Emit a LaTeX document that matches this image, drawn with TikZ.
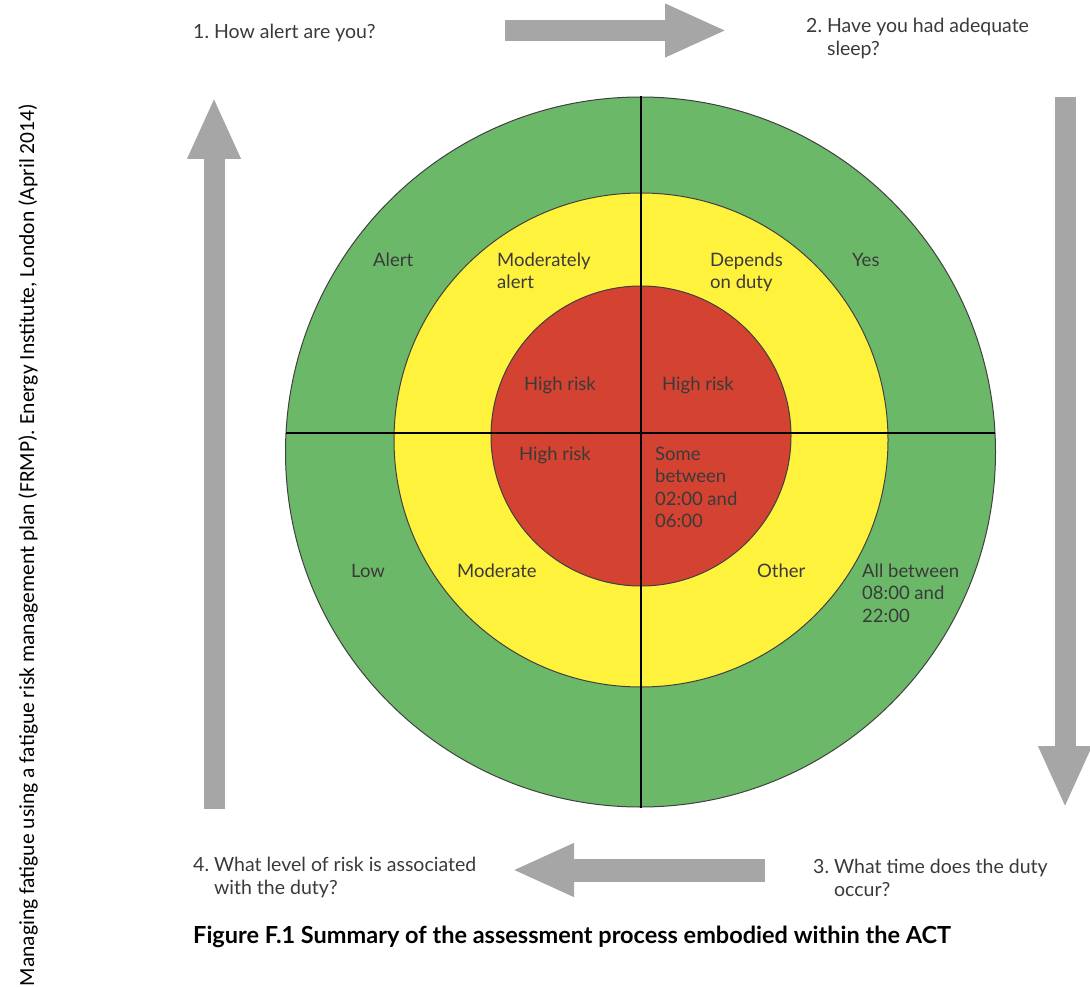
\documentclass[tikz,border=0pt]{standalone}
\usepackage{fontspec}
\setmainfont{Lato}
\newfontfamily\notefont{Carlito}
\usepackage{tikz}
\usetikzlibrary{arrows.meta, positioning}

\definecolor{zonegreen}{HTML}{6BB968}
\definecolor{zoneyellow}{HTML}{FFF23C}
\definecolor{zonered}{HTML}{D44232}
\definecolor{arrowgray}{HTML}{A6A6A6}
\definecolor{textgray}{HTML}{3A3A3A}

\tikzset{
  ring/.style={draw=black!75, line width=1pt},
  divider/.style={draw=black, line width=1.6pt},
  % base west of a multi-line node sits on its last line
  zonelabel/.style={
    anchor=base west, inner sep=0pt, align=left, text=textgray,
    font=\fontsize{18.5}{22.5}\selectfont
  },
  question/.style={
    anchor=base west, inner sep=0pt, align=left, text=textgray,
    font=\fontsize{19.5}{23}\selectfont
  },
  blockarrow/.style={
    draw=arrowgray, line width=21pt, -{Triangle[width=49pt, length=62pt]}
  }
}

\begin{document}
\begin{tikzpicture}[x=1pt, y=-1pt]
  \useasboundingbox (0,0) rectangle (1090,987);

  % three risk rings
  \draw[ring, fill=zonegreen] (640.5,452) circle[radius=355];
  \draw[ring, fill=zoneyellow] (641,440) circle[radius=247];
  \draw[ring, fill=zonered] (641,436) circle[radius=150];
  \draw[divider] (641,96) -- (641,808);
  \draw[divider] (286,433) -- (995,433);

  % zone texts
  \node[zonelabel] (alert) at (373,266) {Alert};
  \node[zonelabel] (modalert) at (497,288.5) {Moderately\\alert};
  \node[zonelabel] (depends) at (710,288.5) {Depends\\on duty};
  \node[zonelabel] (yes) at (852,266) {Yes};
  \node[zonelabel] (riskA) at (524,390) {High risk};
  \node[zonelabel] (riskB) at (662,390) {High risk};
  \node[zonelabel] (riskC) at (519,460) {High risk};
  \node[zonelabel] (night) at (655,527.5) {Some\\between\\02:00 and\\06:00};
  \node[zonelabel] (low) at (351,577) {Low};
  \node[zonelabel] (moderate) at (457,577) {Moderate};
  \node[zonelabel] (other) at (757,577) {Other};
  \node[zonelabel] (daytime) at (862,622) {All between\\08:00 and\\22:00};

  % the four questions
  \node[question] (qalert) at (193,39) {1.~How alert are you?};
  \node[question] (qsleep) at (806,56) {2.~Have you had adequate\\\hphantom{2.~}sleep?};
  \node[question] (qtime) at (813,896) {3.~What time does the duty\\\hphantom{3.~}occur?};
  \node[question] (qrisk) at (193,894) {4.~What level of risk is associated\\\hphantom{4.~}with the duty?};

  \node[anchor=base west, inner sep=0pt, font=\fontsize{23.5}{28}\selectfont\bfseries]
    (caption) at (193,943) {Figure F.1 Summary of the assessment process embodied within the ACT};

  \node[rotate=90, inner sep=0pt, font=\notefont\fontsize{21.5}{26}\selectfont]
    (source) at (28,545) {Managing fatigue using a fatigue risk management plan (FRMP). Energy Institute, London (April 2014)};

  % arrows between the questions
  \coordinate (topA) at (505,30.5);
  \coordinate (topB) at (727,30.5);
  \coordinate (rightA) at (1065,97);
  \coordinate (rightB) at (1065,808);
  \coordinate (botA) at (765,870);
  \coordinate (botB) at (512,870);
  \coordinate (leftA) at (214,809);
  \coordinate (leftB) at (214,97);
  \draw[blockarrow] (topA) -- (topB);
  \draw[blockarrow] (rightA) -- (rightB);
  \draw[blockarrow, line width=23pt] (botA) -- (botB);
  \draw[blockarrow] (leftA) -- (leftB);
\end{tikzpicture}
\end{document}
